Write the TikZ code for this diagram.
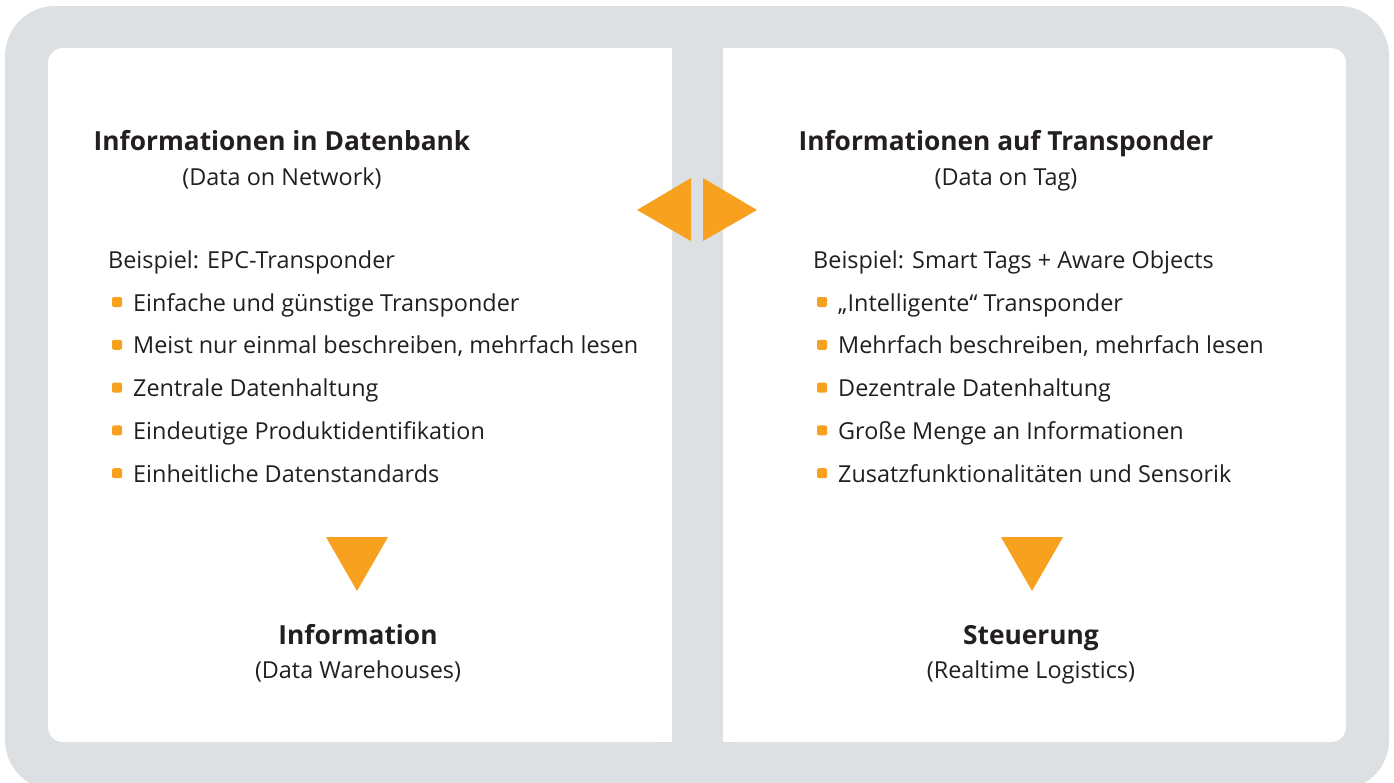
\documentclass[tikz,border=0pt]{standalone}
\usepackage{fontspec}
\setmainfont{Open Sans}
\definecolor{frame}{HTML}{DCE0E3}
\definecolor{accent}{HTML}{F7A11E}
\definecolor{ink}{HTML}{231F20}
\begin{document}
\begin{tikzpicture}[x=1pt,y=-1pt,
  body/.style={inner sep=0pt,text=ink,font=\fontsize{23.4}{28}\selectfont},
  head/.style={inner sep=0pt,text=ink,font=\bfseries\fontsize{26.3}{30}\selectfont},
  bullet/.style={fill=accent,rounded corners=2pt,minimum size=10pt,inner sep=0pt},
  tri/.style={fill=accent}]
\useasboundingbox (0,0) rectangle (1394,782);
\fill[white] (0,0) rectangle (1394,782);
% grey frame
\fill[frame,rounded corners=50pt] (5,6) rectangle (1389,790);
% left panel: outer corners rounded, inner edge square
\fill[white,rounded corners=15pt] (48,48) rectangle (672,742);
\fill[white] (600,48) rectangle (672,742);
% right panel
\fill[white,rounded corners=15pt] (723,48) rectangle (1346,742);
\fill[white] (723,48) rectangle (800,742);

% double arrow between the panels
\fill[tri] (637,210) -- (691,178) -- (691,241) -- cycle;
\fill[tri] (757,210) -- (703,178) -- (703,241) -- cycle;

% left panel
\node[head,anchor=base] (lh) at (282,150) {Informationen in Datenbank};
\node[body,anchor=base] (ls) at (282,185) {(Data on Network)};
\node[body,anchor=base west] (lx) at (108,268) {Beispiel: EPC-Transponder};
\foreach \t [count=\i] in {Einfache und günstige Transponder,
  {Meist nur einmal beschreiben, mehrfach lesen},
  Zentrale Datenhaltung,
  Eindeutige Produktidentifikation,
  Einheitliche Datenstandards}{
  \node[bullet] (lb\i) at (117,{311+42.8*(\i-1)-9}) {};
  \node[body,anchor=base west] (lt\i) at (133,{311+42.8*(\i-1)}) {\t};
}
\fill[tri] (326,537) -- (388,537) -- (357,591) -- cycle;
\node[head,anchor=base] (lo) at (358,644) {Information};
\node[body,anchor=base] (lo2) at (358,678) {(Data Warehouses)};

% right panel
\node[head,anchor=base] (rh) at (1006,150) {Informationen auf Transponder};
\node[body,anchor=base] (rs) at (1006,185) {(Data on Tag)};
\node[body,anchor=base west] (rx) at (813,268) {Beispiel: Smart Tags + Aware Objects};
\foreach \t [count=\i] in {„Intelligente“ Transponder,
  {Mehrfach beschreiben, mehrfach lesen},
  Dezentrale Datenhaltung,
  Große Menge an Informationen,
  Zusatzfunktionalitäten und Sensorik}{
  \node[bullet] (rb\i) at (822,{311+42.8*(\i-1)-9}) {};
  \node[body,anchor=base west] (rt\i) at (838,{311+42.8*(\i-1)}) {\t};
}
\fill[tri] (1001,537) -- (1063,537) -- (1032,591) -- cycle;
\node[head,anchor=base] (ro) at (1031,644) {Steuerung};
\node[body,anchor=base] (ro2) at (1031,678) {(Realtime Logistics)};
\end{tikzpicture}
\end{document}
